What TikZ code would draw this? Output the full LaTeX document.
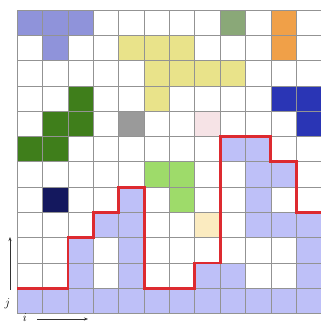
\documentclass[tikz,border=0pt]{standalone}
\usetikzlibrary{arrows.meta}
\definecolor{lav}{HTML}{BEC0F8}
\definecolor{lavdark}{HTML}{8F93DA}
\definecolor{yel}{HTML}{E9E38A}
\definecolor{dgreen}{HTML}{3F7E1B}
\definecolor{ggreen}{HTML}{8AA878}
\definecolor{orng}{HTML}{F0A048}
\definecolor{dblue}{HTML}{2A35B5}
\definecolor{pnk}{HTML}{F6E3E6}
\definecolor{lgreen}{HTML}{9EDB6A}
\definecolor{navy}{HTML}{14185E}
\definecolor{cream}{HTML}{FBEBC0}
\definecolor{gry}{HTML}{9A9A9A}
\definecolor{redp}{HTML}{DD2A30}
\definecolor{gline}{HTML}{939393}
\tikzset{
  gridline/.style={gline, line width=0.6pt},
  redpath/.style={redp, line width=2.9pt, line join=miter},
  axisarrow/.style={-{Stealth[length=4pt,width=3pt]}, line width=0.6pt, black!80},
  axislabel/.style={inner sep=0pt, font=\fontsize{12}{14}\selectfont}
}
\begin{document}
\begin{tikzpicture}[x=1pt,y=1pt]
\useasboundingbox (0,0) rectangle (321,324);
\clip (0,0) rectangle (321,324);
\fill[white] (0,0) rectangle (321,324);
\begin{scope}[shift={(17.3,10.4)}, x=25.35pt, y=25.3pt]
  % light lavender cells (column/row-from-top)
  \foreach \c/\r in {0/11,1/11,2/11,3/11,4/11,5/11,6/11,7/11,8/11,9/11,10/11,11/11,
                     2/10,4/10,7/10,8/10,11/10,
                     2/9,4/9,11/9,
                     3/8,4/8,9/8,10/8,11/8,
                     4/7,9/7,
                     9/6,10/6,
                     8/5,9/5}
    \fill[lav] (\c,11-\r) rectangle ++(1,1);
  % coloured cells
  \foreach \c/\r/\col in {0/0/lavdark,1/0/lavdark,2/0/lavdark,1/1/lavdark,
                          8/0/ggreen,10/0/orng,10/1/orng,
                          4/1/yel,5/1/yel,6/1/yel,5/2/yel,6/2/yel,7/2/yel,8/2/yel,5/3/yel,
                          2/3/dgreen,1/4/dgreen,2/4/dgreen,0/5/dgreen,1/5/dgreen,
                          4/4/gry,7/4/pnk,10/3/dblue,11/3/dblue,11/4/dblue,
                          5/6/lgreen,6/6/lgreen,6/7/lgreen,
                          1/7/navy,7/8/cream}
    \fill[\col] (\c,11-\r) rectangle ++(1,1);
  % grid
  \foreach \k in {0,...,12} {
    \draw[gridline] (\k,0) -- (\k,12);
    \draw[gridline] (0,\k) -- (12,\k);
  }
  % red boundary
  \draw[redpath] (0,1) -- (2,1) -- (2,3) -- (3,3) -- (3,4) -- (4,4) -- (4,5) -- (5,5)
    -- (5,1) -- (7,1) -- (7,2) -- (8,2) -- (8,7) -- (10,7) -- (10,6) -- (11,6)
    -- (11,4) -- (12.2,4);
\end{scope}
% axes
\node[axislabel] (jl) at (7.5,20) {$j$};
\node[axislabel] (il) at (25,6) {$i$};
\coordinate (ja) at (10,34);
\coordinate (jb) at (10,87);
\coordinate (ia) at (37,5);
\coordinate (ib) at (88,5);
\draw[axisarrow] (ja) -- (jb);
\draw[axisarrow] (ia) -- (ib);
\end{tikzpicture}
\end{document}
